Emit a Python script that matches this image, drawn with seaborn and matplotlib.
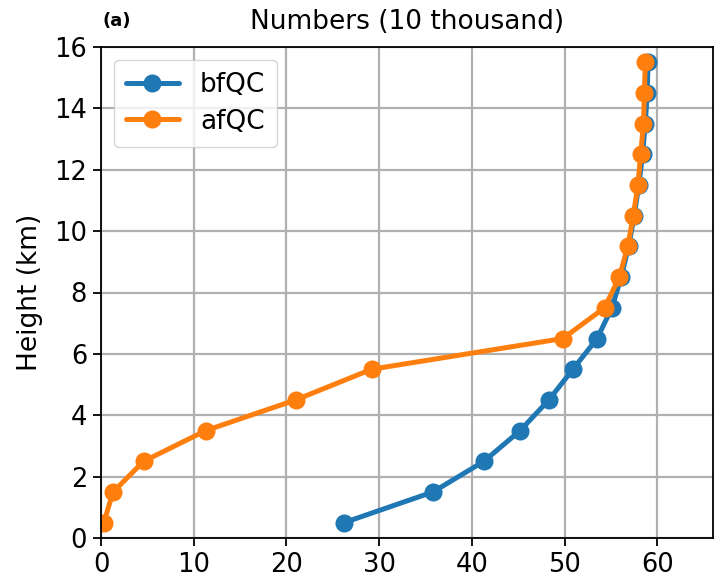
import numpy as np
import pandas as pd
import matplotlib
matplotlib.use("Agg")
import matplotlib.pyplot as plt
import seaborn as sns

# ---------------------------------------------------------------------------
# Data (counts in 10 thousand, per height bin)
# ---------------------------------------------------------------------------
heights = [0.5, 1.5, 2.5, 3.5, 4.5, 5.5, 6.5, 7.5,
           8.5, 9.5, 10.5, 11.5, 12.5, 13.5, 14.5, 15.5]
bfqc = [26.2, 35.8, 41.3, 45.2, 48.3, 50.9, 53.5, 55.1,
        56.1, 56.9, 57.5, 58.0, 58.4, 58.7, 58.9, 59.0]
afqc = [0.3, 1.3, 4.6, 11.3, 21.0, 29.2, 49.8, 54.3,
        55.9, 56.8, 57.4, 57.9, 58.2, 58.5, 58.6, 58.7]

df = pd.concat([
    pd.DataFrame({"height": heights, "count": bfqc, "set": "bfQC"}),
    pd.DataFrame({"height": heights, "count": afqc, "set": "afQC"}),
])

sns.set_style("ticks")
plt.rcParams["font.family"] = ["DejaVu Sans"]
for k in ["text.color", "axes.labelcolor", "xtick.color", "ytick.color"]:
    plt.rcParams[k] = "black"

fig = plt.figure(figsize=(7.18, 5.85), dpi=100)
ax = fig.add_axes([101 / 718, 1 - 538 / 585, 612 / 718, 491 / 585])

sns.lineplot(data=df, x="count", y="height", hue="set", orient="y",
             palette=["#1f77b4", "#ff7f0e"], estimator=None, sort=False,
             marker="o", markersize=13, markeredgewidth=0, linewidth=3.6, ax=ax)

ax.set_xlim(0, 66)
ax.set_ylim(0, 16)
ax.set_xticks(range(0, 61, 10))
ax.set_yticks(range(0, 17, 2))
ax.grid(True, color="#b0b0b0", linewidth=1.6)
ax.set_axisbelow(True)
ax.tick_params(labelsize=18.5, width=1.3, length=6, color="black", pad=4)
for s in ax.spines.values():
    s.set_color("black")
    s.set_linewidth(1.3)
ax.set_xlabel("")
ax.set_ylabel("Height (km)", fontsize=19, labelpad=8)

ax.legend(loc="upper left", fontsize=19, frameon=True, borderpad=0.45,
          handlelength=2.0, labelspacing=0.4, framealpha=0.8)

ax.set_title("Numbers (10 thousand)", fontsize=19, pad=13)
ax.text(0.003, 1.035, "(a)", transform=ax.transAxes, ha="left", va="bottom",
        fontsize=13, fontweight="bold")

fig.savefig("out.png", dpi=100)
